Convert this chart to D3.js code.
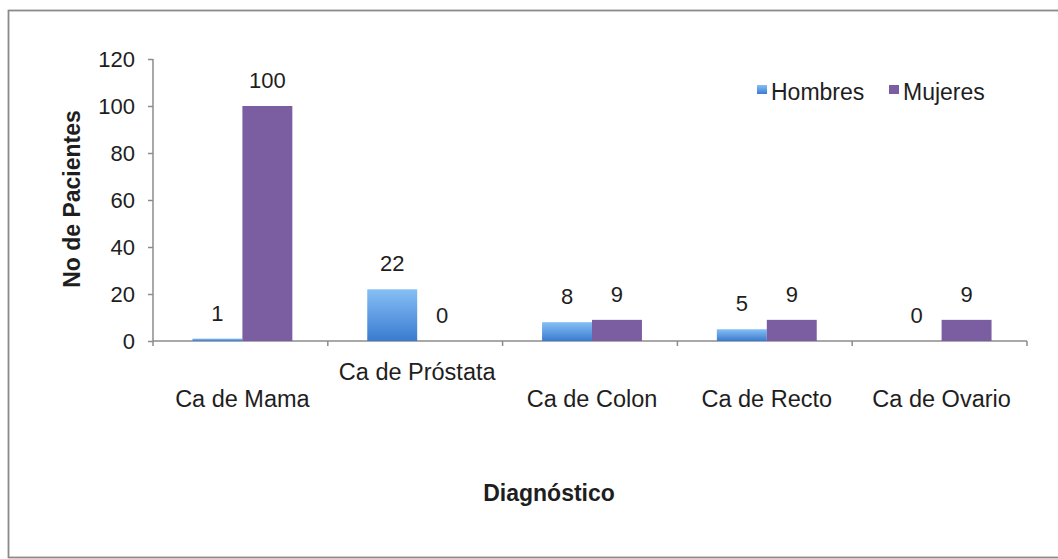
<!DOCTYPE html>
<html>
<head>
<meta charset="utf-8">
<script src="https://cdn.jsdelivr.net/npm/d3@7"></script>
<style>
  body { margin: 0; background: #fff; }
  svg text { font-family: "Liberation Sans", Arial, Helvetica, sans-serif; fill: #1e1e1e; }
  .axis path, .axis line { stroke: #8c8c8c; stroke-width: 1.5; }
  .axis text { font-size: 22px; }
</style>
</head>
<body>
<svg id="chart" width="1058" height="559"></svg>
<script>
// data
const categories = ['Ca de Mama', 'Ca de Próstata', 'Ca de Colon', 'Ca de Recto', 'Ca de Ovario'];
const seriesNames = ['Hombres', 'Mujeres'];
const hombres = [1, 22, 8, 5, 0];
const mujeres = [100, 0, 9, 9, 9];
const yTicks = [0, 20, 40, 60, 80, 100, 120];

// dimensions
const MARGIN_LEFT = 153;
const MARGIN_TOP = 59;
const PLOT_W = 874;
const PLOT_H = 282;

const COLORS = { Hombres: 'url(#grad-hombres)', Mujeres: '#7b5ea1' };

const $svg = d3.select('#chart');

// gradient for the blue bars
const defs = $svg.append('defs');
const grad = defs.append('linearGradient')
  .attr('id', 'grad-hombres')
  .attr('x1', '0%').attr('y1', '0%')
  .attr('x2', '0%').attr('y2', '100%');
grad.append('stop').attr('offset', '0%').attr('stop-color', '#86bff5');
grad.append('stop').attr('offset', '100%').attr('stop-color', '#3a7bd0');

// frame (right side runs off the picture)
$svg.append('rect')
  .attr('x', 8.5).attr('y', 10.5)
  .attr('width', 1100).attr('height', 547)
  .attr('fill', 'none')
  .attr('stroke', '#8a8a8a')
  .attr('stroke-width', 1.8);

const $vis = $svg.append('g').attr('transform', `translate(${MARGIN_LEFT}, ${MARGIN_TOP})`);

// scales
const scaleX = d3.scaleBand().domain(categories).range([0, PLOT_W]).padding(0);
const scaleSub = d3.scaleBand().domain(seriesNames)
  .range([0, scaleX.bandwidth()]).paddingInner(0).paddingOuter(0.75);
const scaleY = d3.scaleLinear().domain([0, 120]).range([PLOT_H, 0]);

// y axis
$vis.append('g')
  .attr('class', 'axis axis-y')
  .call(d3.axisLeft(scaleY).tickValues(yTicks).tickSize(5).tickPadding(13).tickFormat(d3.format('d')))
  .call((g) => g.select('.domain').attr('d', `M0,${PLOT_H}V0`))
  .call((g) => g.selectAll('.tick text').attr('dy', '0.36em'));

// x axis: line plus ticks at category boundaries
const $axisX = $vis.append('g').attr('class', 'axis axis-x')
  .attr('transform', `translate(0, ${PLOT_H})`);
$axisX.append('path').attr('d', `M0,0H${PLOT_W}`);
$axisX.selectAll('line')
  .data(categories.map((c) => scaleX(c)).concat([PLOT_W]))
  .join('line')
  .attr('x1', (d) => d).attr('x2', (d) => d)
  .attr('y1', 0).attr('y2', 5);
// labels alternate like the original (Próstata sits higher)
$axisX.selectAll('text')
  .data(categories)
  .join('text')
  .attr('x', (d) => scaleX(d) + scaleX.bandwidth() / 2 + 2)
  .attr('y', (d, i) => (i === 1 ? 39 : 66))
  .attr('text-anchor', 'middle')
  .style('font-size', '23.5px')
  .text((d) => d);

// bars
const rows = categories.map((c, i) => ({
  key: c,
  values: [
    { name: 'Hombres', value: hombres[i] },
    { name: 'Mujeres', value: mujeres[i] },
  ],
}));

const $groups = $vis.selectAll('.group')
  .data(rows)
  .join('g')
  .attr('class', 'group')
  .attr('transform', (d) => `translate(${scaleX(d.key) + 2}, 0)`);

$groups.selectAll('rect')
  .data((d) => d.values)
  .join('rect')
  .attr('x', (d) => scaleSub(d.name))
  .attr('y', (d) => scaleY(d.value))
  .attr('width', scaleSub.bandwidth())
  .attr('height', (d) => PLOT_H - scaleY(d.value))
  .attr('fill', (d) => COLORS[d.name]);

$groups.selectAll('text')
  .data((d) => d.values)
  .join('text')
  .attr('x', (d) => scaleSub(d.name) + scaleSub.bandwidth() / 2)
  .attr('y', (d) => scaleY(d.value) - 18)
  .attr('text-anchor', 'middle')
  .style('font-size', '22px')
  .text((d) => d.value);

// axis titles
$svg.append('text')
  .attr('transform', 'translate(80, 199) rotate(-90)')
  .attr('text-anchor', 'middle')
  .style('font-size', '23px')
  .style('font-weight', 'bold')
  .text('No de Pacientes');

$svg.append('text')
  .attr('x', 549)
  .attr('y', 501)
  .attr('text-anchor', 'middle')
  .style('font-size', '23px')
  .style('font-weight', 'bold')
  .text('Diagnóstico');

// legend
const legendX = [757, 889];
const $legend = $svg.append('g').attr('class', 'legend');
const $items = $legend.selectAll('g')
  .data(seriesNames)
  .join('g')
  .attr('transform', (d, i) => `translate(${legendX[i]}, 85)`);
$items.append('rect')
  .attr('width', 10).attr('height', 9)
  .attr('fill', (d) => COLORS[d]);
$items.append('text')
  .attr('x', 14)
  .attr('y', 15)
  .style('font-size', '23px')
  .text((d) => d);
</script>
</body>
</html>
